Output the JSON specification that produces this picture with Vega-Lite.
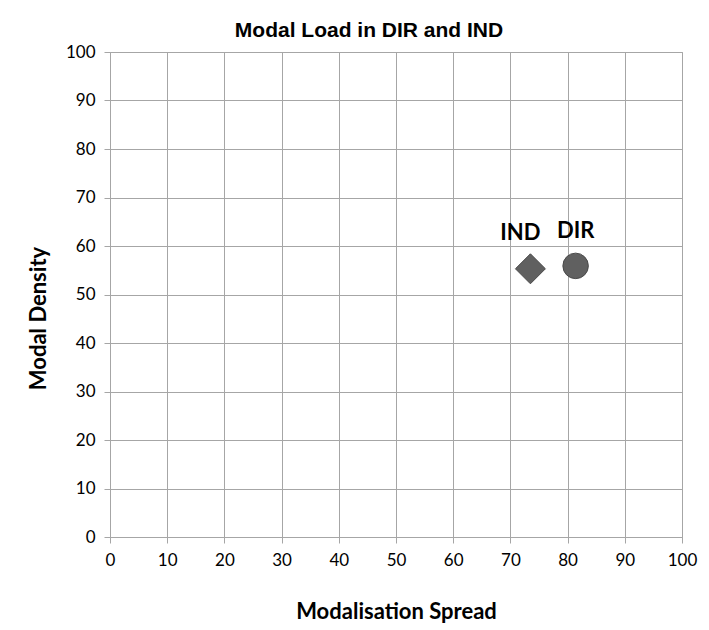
{
  "$schema": "https://vega.github.io/schema/vega-lite/v6.json",
  "autosize": {"type": "none"},
  "padding": {"left": 110, "top": 52, "right": 27, "bottom": 93},
  "width": 572,
  "height": 485,
  "background": "white",
  "title": {
    "text": "Modal Load in DIR and IND",
    "font": "Liberation Sans",
    "fontSize": 21,
    "fontWeight": "bold",
    "color": "black",
    "anchor": "middle",
    "frame": "group",
    "dx": -27,
    "offset": 2
  },
  "data": {
    "values": [
      {"group": "DIR", "spread": 81.4, "density": 55.9},
      {"group": "IND", "spread": 73.5, "density": 55.3}
    ]
  },
  "encoding": {
    "x": {
      "field": "spread", "type": "quantitative",
      "scale": {"domain": [0, 100], "nice": false, "zero": true},
      "axis": {
        "title": "Modalisation Spread",
        "values": [0, 10, 20, 30, 40, 50, 60, 70, 80, 90, 100],
        "labelFlush": false, "labelOverlap": false,
        "grid": true, "gridColor": "#a6a6a6", "gridWidth": 1,
        "domainColor": "#a6a6a6", "tickColor": "#a6a6a6", "tickSize": 6,
        "labelFont": "Lato", "labelFontSize": 17, "labelColor": "black", "labelPadding": 9,
        "titleFont": "Lato", "titleFontSize": 22, "titleFontWeight": "bold", "titleColor": "black",
        "titlePadding": 33
      }
    },
    "y": {
      "field": "density", "type": "quantitative",
      "scale": {"domain": [0, 100], "nice": false, "zero": true},
      "axis": {
        "title": "Modal Density",
        "values": [0, 10, 20, 30, 40, 50, 60, 70, 80, 90, 100],
        "labelFlush": false, "labelOverlap": false,
        "grid": true, "gridColor": "#a6a6a6", "gridWidth": 1,
        "domainColor": "#a6a6a6", "tickColor": "#a6a6a6", "tickSize": 6,
        "labelFont": "Lato", "labelFontSize": 17, "labelColor": "black", "labelPadding": 9,
        "titleFont": "Lato", "titleFontSize": 22, "titleFontWeight": "bold", "titleColor": "black",
        "titleY": 266, "titlePadding": 15
      }
    }
  },
  "layer": [
    {
      "mark": {"type": "point", "filled": true, "opacity": 1, "stroke": "#4a4a4a", "strokeWidth": 1},
      "encoding": {
        "shape": {
          "field": "group", "type": "nominal",
          "scale": {"domain": ["DIR", "IND"], "range": ["circle", "diamond"]},
          "legend": null
        },
        "size": {
          "field": "group", "type": "nominal",
          "scale": {"domain": ["DIR", "IND"], "range": [650, 900]},
          "legend": null
        },
        "color": {"value": "#606060"}
      }
    },
    {
      "transform": [{"filter": "datum.group === 'IND'"}],
      "mark": {"type": "text", "font": "Lato", "fontSize": 22, "fontWeight": "bold", "dx": -10, "dy": -36, "color": "black"},
      "encoding": {
        "text": {"field": "group", "type": "nominal"}
      }
    },
    {
      "transform": [{"filter": "datum.group === 'DIR'"}],
      "mark": {"type": "text", "font": "Lato", "fontSize": 22, "fontWeight": "bold", "dx": 0, "dy": -35, "color": "black"},
      "encoding": {
        "text": {"field": "group", "type": "nominal"}
      }
    }
  ],
  "config": {
    "view": {"stroke": "#a6a6a6", "strokeWidth": 1}
  }
}
